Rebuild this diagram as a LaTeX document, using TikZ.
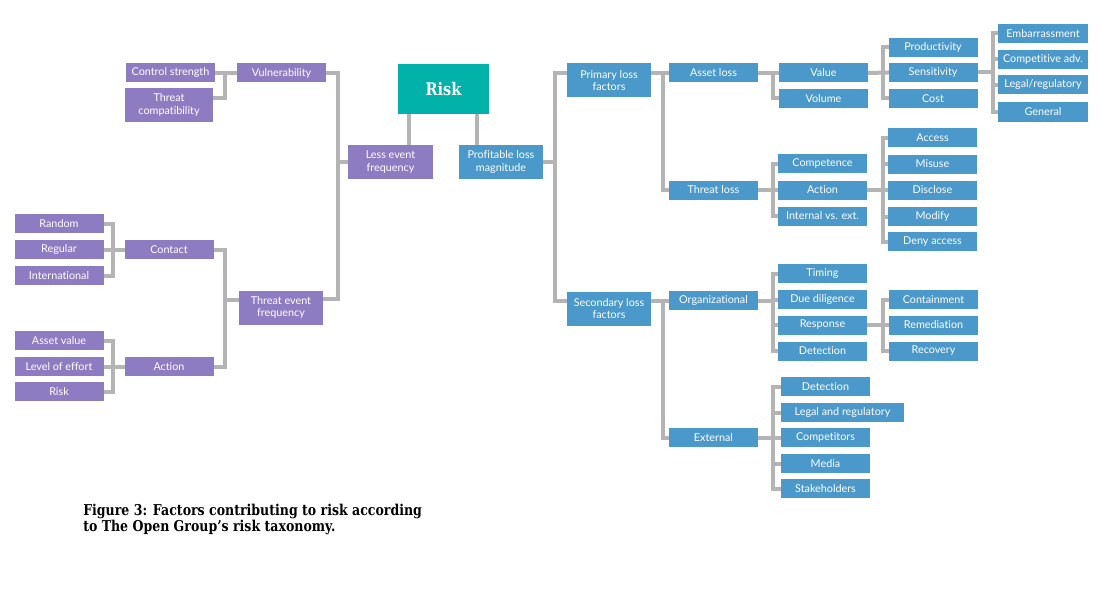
\documentclass[tikz,border=0pt]{standalone}
\usepackage{fontspec}
\setmainfont[Ligatures=NoCommon]{Lato}
\newfontfamily\slabfont[FakeStretch=0.84]{DejaVu Serif}
\usetikzlibrary{backgrounds}
\definecolor{purp}{HTML}{8E7CC3}
\definecolor{blu}{HTML}{4B98CB}
\definecolor{teal}{HTML}{00B2A9}
\definecolor{conn}{HTML}{B4B4B4}
\tikzset{
  base/.style={rectangle, inner sep=0pt, text=white, align=center, font=\fontsize{8.1}{9.4}\selectfont},
  pb/.style={base, fill=purp},
  bb/.style={base, fill=blu},
  sm/.style={minimum width=66.75pt, minimum height=14.25pt},
  tl/.style={minimum width=63.5pt, minimum height=25.5pt},
  cn/.style={draw=conn, line width=3pt, line cap=rect, line join=miter},
}
\begin{document}
\begin{tikzpicture}[x=0.75pt,y=-0.75pt]
\useasboundingbox (0,0) rectangle (1103,610);
% trunk x coordinates
\coordinate (tA) at (225,0);
\coordinate (tB) at (338,0);
\coordinate (tL) at (113,0);
\coordinate (tR1) at (409,0);
\coordinate (tR2) at (477,0);
\coordinate (tC) at (555,0);
\coordinate (tD) at (663,0);
\coordinate (tE) at (773,0);
\coordinate (tG) at (883,0);
\coordinate (tH) at (993,0);

% ---- purple side
\node[pb, sm] (cs) at (170.5,73) {Control strength};
\node[pb, tl, minimum width=66pt] (tc) at (169,105) {Threat\\compatibility};
\node[pb, sm] (vul) at (281.5,73) {Vulnerability};
\node[pb, tl] (lef) at (390.5,162) {Less event\\frequency};
\node[pb, tl] (tef) at (281,307.5) {Threat event\\frequency};
\node[pb, sm] (contact) at (169,249.5) {Contact};
\node[pb, sm] (random) at (59,223.5) {Random};
\node[pb, sm] (regular) at (59,249.5) {Regular};
\node[pb, sm] (intl) at (59,275.5) {International};
\node[pb, sm] (actL) at (169,366.5) {Action};
\node[pb, sm] (av) at (59,340.5) {Asset value};
\node[pb, sm] (loe) at (59,366.5) {Level of effort};
\node[pb, sm] (riskL) at (59,391.5) {Risk};

% ---- risk
\node[base, fill=teal, minimum width=68.25pt, minimum height=37.5pt, font=\slabfont\bfseries\fontsize{13}{15}\selectfont] (risk) at (443.5,89) {Risk};

% ---- blue side
\node[bb, tl] (plm) at (501,162) {Profitable loss\\magnitude};
\node[bb, tl] (plf) at (609,80.5) {Primary loss\\factors};
\node[bb, tl] (slf) at (609,308.5) {Secondary loss\\factors};
\node[bb, sm] (al) at (713.5,73) {Asset loss};
\node[bb, sm] (tlo) at (713.5,190) {Threat loss};
\node[bb, sm] (org) at (713.5,300.5) {Organizational};
\node[bb, sm] (ext) at (713.5,437.5) {External};
\node[bb, sm] (val) at (823.5,73) {Value};
\node[bb, sm] (vol) at (823.5,98.5) {Volume};
\node[bb, sm] (comp) at (822.5,163.5) {Competence};
\node[bb, sm] (actR) at (822.5,190) {Action};
\node[bb, sm] (ive) at (822.5,216) {Internal vs. ext.};
\node[bb, sm] (prod) at (933,47.5) {Productivity};
\node[bb, sm] (sens) at (933,72.5) {Sensitivity};
\node[bb, sm] (cost) at (933,98.5) {Cost};
\node[bb, sm, minimum width=67.5pt] (emb) at (1043,33.5) {Embarrassment};
\node[bb, sm, minimum width=67.5pt] (cadv) at (1043,59.5) {Competitive adv.};
\node[bb, sm, minimum width=67.5pt] (lreg) at (1043,85) {Legal/regulatory};
\node[bb, sm, minimum width=67.5pt] (gen) at (1043,112) {General};
\node[bb, sm] (acc) at (932.5,137.5) {Access};
\node[bb, sm] (mis) at (932.5,164) {Misuse};
\node[bb, sm] (dis) at (932.5,190) {Disclose};
\node[bb, sm] (mod) at (932.5,216.5) {Modify};
\node[bb, sm] (deny) at (932.5,241.5) {Deny access};
\node[bb, sm] (tim) at (822.5,273.5) {Timing};
\node[bb, sm] (due) at (822.5,299.5) {Due diligence};
\node[bb, sm] (resp) at (822.5,325) {Response};
\node[bb, sm] (det) at (822.5,351) {Detection};
\node[bb, sm] (cont) at (933.5,299.5) {Containment};
\node[bb, sm] (rem) at (933.5,325) {Remediation};
\node[bb, sm] (rec) at (933.5,351) {Recovery};
\node[bb, sm] (detE) at (825.5,386.5) {Detection};
\node[bb, sm, minimum width=92.25pt] (lar) at (842.5,412.5) {Legal and regulatory};
\node[bb, sm] (cmp) at (825.5,437.5) {Competitors};
\node[bb, sm] (med) at (825.5,463.5) {Media};
\node[bb, sm] (stk) at (825.5,488.5) {Stakeholders};

% ---- caption
\node[anchor=north west, inner sep=0pt, align=left, font=\slabfont\bfseries\fontsize{11.2}{12}\selectfont] (cap) at (83,504) {Figure 3: Factors contributing to risk according\\to The Open Group’s risk taxonomy.};

% ---- shifted attachment points
\coordinate (tcE) at ([yshift=5.25pt]tc.east);
\coordinate (tefE) at ([yshift=6.4pt]tef.east);
\coordinate (tefW) at ([yshift=5.6pt]tef.west);
\coordinate (plfW) at (plf.west |- al.west);
\coordinate (plfE) at (plf.east |- al.west);
\coordinate (slfW) at (slf.west |- org.west);
\coordinate (slfE) at (slf.east |- org.west);

% ---- connectors
\begin{scope}[on background layer]
% left
\draw[cn] (cs.east) -- (vul.west);
\draw[cn] (tcE) -| (tA |- vul.west);
\draw[cn] (vul.east) -| (tB |- tefE) -- (tefE);
\draw[cn] (tB |- lef.west) -- (lef.west);
\draw[cn] (random.east) -| (tL |- intl.east) -- (intl.east);
\draw[cn] (regular.east) -- (contact.west);
\draw[cn] (contact.east) -| (tA |- actL.east) -- (actL.east);
\draw[cn] (tefW) -- (tA |- tefW);
\draw[cn] (av.east) -| (tL |- riskL.east) -- (riskL.east);
\draw[cn] (loe.east) -- (actL.west);
% risk
\draw[cn] (tR1 |- risk.south) -- (tR1 |- lef.north);
\draw[cn] (tR2 |- risk.south) -- (tR2 |- plm.north);
% right
\draw[cn] (plm.east) -- (tC |- plm.east);
\draw[cn] (plfW) -| (tC |- slfW) -- (slfW);
\draw[cn] (plfE) -- (al.west);
\draw[cn] (tD |- al.west) |- (tlo.west);
\draw[cn] (slfE) -- (org.west);
\draw[cn] (tD |- org.west) |- (ext.west);
\draw[cn] (al.east) -- (val.west);
\draw[cn] (tE |- val.west) |- (vol.west);
\draw[cn] (tlo.east) -- (actR.west);
\draw[cn] (comp.west) -| (tE |- ive.west) -- (ive.west);
\draw[cn] (val.east) -- (sens.west);
\draw[cn] (prod.west) -| (tG |- cost.west) -- (cost.west);
\draw[cn] (sens.east) -- (tH |- sens.east);
\draw[cn] (emb.west) -| (tH |- gen.west) -- (gen.west);
\draw[cn] (cadv.west) -- (tH |- cadv.west);
\draw[cn] (lreg.west) -- (tH |- lreg.west);
\draw[cn] (actR.east) -- (dis.west);
\draw[cn] (acc.west) -| (tG |- deny.west) -- (deny.west);
\draw[cn] (mis.west) -- (tG |- mis.west);
\draw[cn] (mod.west) -- (tG |- mod.west);
\draw[cn] (org.east) -- (tE |- org.east);
\draw[cn] (tim.west) -| (tE |- det.west) -- (det.west);
\draw[cn] (due.west) -- (tE |- due.west);
\draw[cn] (resp.west) -- (tE |- resp.west);
\draw[cn] (resp.east) -- (rem.west);
\draw[cn] (cont.west) -| (tG |- rec.west) -- (rec.west);
\draw[cn] (ext.east) -- (cmp.west);
\draw[cn] (detE.west) -| (tE |- stk.west) -- (stk.west);
\draw[cn] (lar.west) -- (tE |- lar.west);
\draw[cn] (med.west) -- (tE |- med.west);
\end{scope}
\end{tikzpicture}
\end{document}
